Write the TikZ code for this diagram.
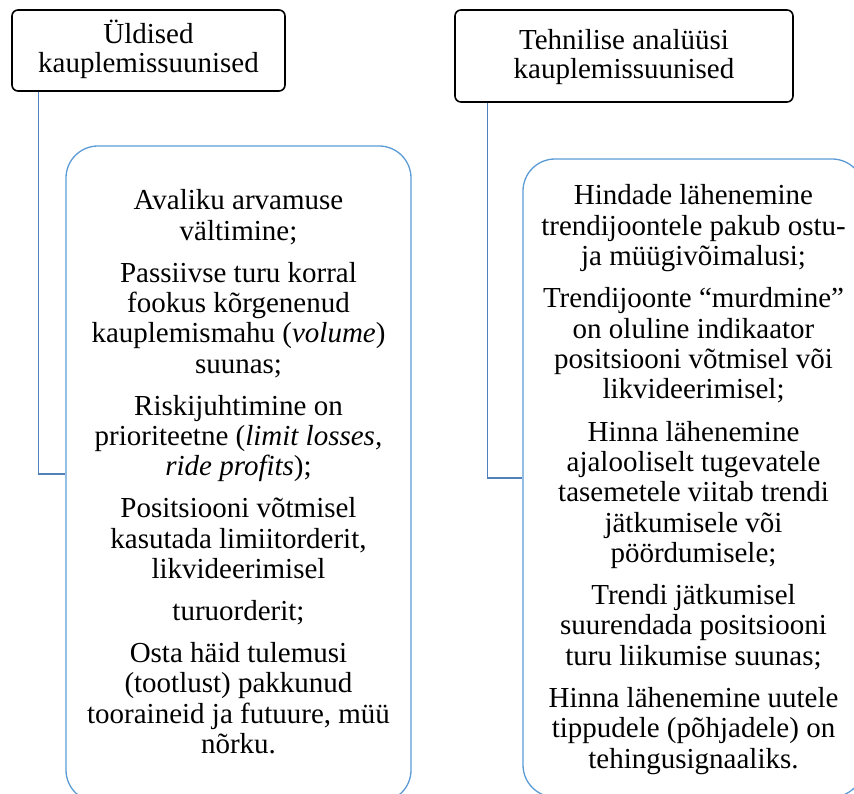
\documentclass[tikz,border=0pt]{standalone}
\usepackage{fontspec}
\setmainfont{Liberation Serif}
\definecolor{connblue}{HTML}{4F81BD}
\definecolor{boxblue}{HTML}{5B9BD5}
\tikzset{
  headbox/.style={draw=black, line width=1.6pt, rounded corners=6pt, inner sep=0pt},
  bigbox/.style={draw=boxblue, line width=1.3pt, rounded corners=32pt, inner sep=0pt},
  conn/.style={draw=connblue, line width=1.4pt},
  txt/.style={anchor=base, inner sep=0pt, font=\fontsize{29}{30}\selectfont}
}
\begin{document}
\begin{tikzpicture}[x=1pt, y=-1pt]
\useasboundingbox (0,0) rectangle (854,794);
\clip (0,0) rectangle (854,794);
% header boxes
\node[headbox, minimum width=273pt, minimum height=81pt] (h1) at (148.5,50.5) {};
\node[headbox, minimum width=338pt, minimum height=92pt] (h2) at (624,56) {};
% big boxes
\node[bigbox, minimum width=345pt, minimum height=656pt] (b1) at (238.5,474) {};
\node[bigbox, minimum width=341pt, minimum height=638pt] (b2) at (693.5,478) {};
% connectors
\draw[conn] ([xshift=27pt]h1.south west) |- (b1.west);
\draw[conn] ([xshift=33pt]h2.south west) |- (b2.west);
% header texts
\node[txt] (h1a) at (148.5,44) {Üldised};
\node[txt] (h1b) at (148.5,73) {kauplemissuunised};
\node[txt] (h2a) at (624,50) {Tehnilise analüüsi};
\node[txt] (h2b) at (624,79) {kauplemissuunised};
% left column
\node[txt] (l1)  at (238.5,210.0) {Avaliku arvamuse};
\node[txt] (l2)  at (238.5,240.2) {vältimine;};
\node[txt] (l3)  at (238.5,282.4) {Passiivse turu korral};
\node[txt] (l4)  at (238.5,312.6) {fookus kõrgenenud};
\node[txt] (l5)  at (238.5,342.8) {kauplemismahu (\textit{volume})};
\node[txt] (l6)  at (238.5,373.0) {suunas;};
\node[txt] (l7)  at (238.5,415.2) {Riskijuhtimine on};
\node[txt] (l8)  at (238.5,445.4) {prioriteetne (\textit{limit losses,}};
\node[txt] (l9)  at (238.5,475.6) {\textit{ride profits});};
\node[txt] (l10) at (238.5,517.8) {Positsiooni võtmisel};
\node[txt] (l11) at (238.5,548.0) {kasutada limiitorderit,};
\node[txt] (l12) at (238.5,578.2) {likvideerimisel};
\node[txt] (l13) at (238.5,620.4) {turuorderit;};
\node[txt] (l14) at (238.5,662.6) {Osta häid tulemusi};
\node[txt] (l15) at (238.5,692.8) {(tootlust) pakkunud};
\node[txt] (l16) at (238.5,723.0) {tooraineid ja futuure, müü};
\node[txt] (l17) at (238.5,753.2) {nõrku.};
% right column
\node[txt] (r1)  at (693.5,205.0) {Hindade lähenemine};
\node[txt] (r2)  at (693.5,235.3) {trendijoontele pakub ostu-};
\node[txt] (r3)  at (693.5,265.6) {ja müügivõimalusi;};
\node[txt] (r4)  at (693.5,307.9) {Trendijoonte “murdmine”};
\node[txt] (r5)  at (693.5,338.2) {on oluline indikaator};
\node[txt] (r6)  at (693.5,368.5) {positsiooni võtmisel või};
\node[txt] (r7)  at (693.5,398.8) {likvideerimisel;};
\node[txt] (r8)  at (693.5,441.1) {Hinna lähenemine};
\node[txt] (r9)  at (693.5,471.4) {ajalooliselt tugevatele};
\node[txt] (r10) at (693.5,501.7) {tasemetele viitab trendi};
\node[txt] (r11) at (693.5,532.0) {jätkumisele või};
\node[txt] (r12) at (693.5,562.3) {pöördumisele;};
\node[txt] (r13) at (693.5,604.6) {Trendi jätkumisel};
\node[txt] (r14) at (693.5,634.9) {suurendada positsiooni};
\node[txt] (r15) at (693.5,665.2) {turu liikumise suunas;};
\node[txt] (r16) at (693.5,707.5) {Hinna lähenemine uutele};
\node[txt] (r17) at (693.5,737.8) {tippudele (põhjadele) on};
\node[txt] (r18) at (693.5,768.1) {tehingusignaaliks.};
\end{tikzpicture}
\end{document}
